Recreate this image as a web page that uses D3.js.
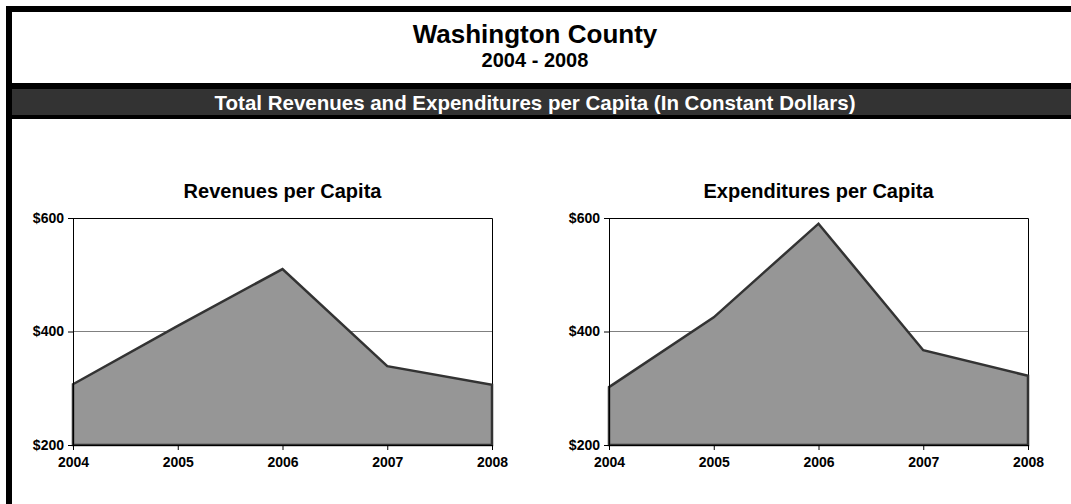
<!DOCTYPE html>
<html>
<head>
<meta charset="utf-8">
<script src="https://cdn.jsdelivr.net/npm/d3@7"></script>
<style>
body { margin: 0; background: #fff; }
svg { display: block; font-family: Arial, 'Liberation Sans', sans-serif; }
.axis text { font-size: 14px; font-weight: bold; fill: #000; }
.axis path, .axis line { stroke: #000; }
</style>
</head>
<body>
<svg id="chart" width="1071" height="504"></svg>
<script>
// values
var years = ['2004', '2005', '2006', '2007', '2008'];
var revenues = [307, 410, 510, 339, 306];
var expenditures = [302, 425, 590, 367, 322];
var yTicks = [200, 400, 600];

var svg = d3.select('#chart');

// frame and heading bands
svg.append('rect').attr('x', 6).attr('y', 6).attr('width', 6).attr('height', 498).attr('fill', '#000');
svg.append('rect').attr('x', 6).attr('y', 6).attr('width', 1065).attr('height', 6).attr('fill', '#000');
svg.append('rect').attr('x', 6).attr('y', 83).attr('width', 1065).attr('height', 36).attr('fill', '#000');
svg.append('rect').attr('x', 12).attr('y', 89).attr('width', 1059).attr('height', 26).attr('fill', '#333');

svg.append('text')
	.attr('x', 535).attr('y', 43)
	.attr('text-anchor', 'middle')
	.attr('font-size', 26).attr('font-weight', 'bold')
	.text('Washington County');

svg.append('text')
	.attr('x', 535).attr('y', 67)
	.attr('text-anchor', 'middle')
	.attr('font-size', 20).attr('font-weight', 'bold')
	.text('2004 - 2008');

svg.append('text')
	.attr('x', 535).attr('y', 110)
	.attr('text-anchor', 'middle')
	.attr('font-size', 20.5).attr('font-weight', 'bold')
	.attr('fill', '#fff')
	.text('Total Revenues and Expenditures per Capita (In Constant Dollars)');

function panel(left, right, title, values) {
	var top = 218, bottom = 445;

	var x = d3.scalePoint().domain(years).range([left, right]).padding(0);
	var y = d3.scaleLinear().domain([200, 600]).range([bottom, top]);

	var g = svg.append('g');

	g.append('text')
		.attr('x', (left + right) / 2).attr('y', 198)
		.attr('text-anchor', 'middle')
		.attr('font-size', 20).attr('font-weight', 'bold')
		.text(title);

	// gridline at $400
	g.append('line')
		.attr('x1', left).attr('x2', right)
		.attr('y1', y(400)).attr('y2', y(400))
		.attr('stroke', '#808080').attr('stroke-width', 1);

	// top and right edges of the plot box
	g.append('path')
		.attr('d', 'M' + left + ',' + (top + 0.5) + 'H' + (right + 0.5) + 'V' + bottom)
		.attr('fill', 'none').attr('stroke', '#000').attr('stroke-width', 1);

	var area = d3.area()
		.x(function(d, i) { return x(years[i]); })
		.y0(bottom)
		.y1(function(d) { return y(d); });

	g.append('path')
		.datum(values)
		.attr('d', area)
		.attr('fill', '#969696')
		.attr('stroke', '#333')
		.attr('stroke-width', 2.5)
		.attr('stroke-linejoin', 'miter');

	g.append('g')
		.attr('class', 'axis')
		.attr('transform', 'translate(' + left + ',0)')
		.call(d3.axisLeft(y).tickValues(yTicks).tickSize(5).tickPadding(4).tickFormat(function(d) { return '$' + d; }));

	g.append('g')
		.attr('class', 'axis')
		.attr('transform', 'translate(0,' + bottom + ')')
		.call(d3.axisBottom(x).tickSize(5).tickPadding(7));
}

panel(73, 492, 'Revenues per Capita', revenues);
panel(609, 1028, 'Expenditures per Capita', expenditures);
</script>
</body>
</html>
